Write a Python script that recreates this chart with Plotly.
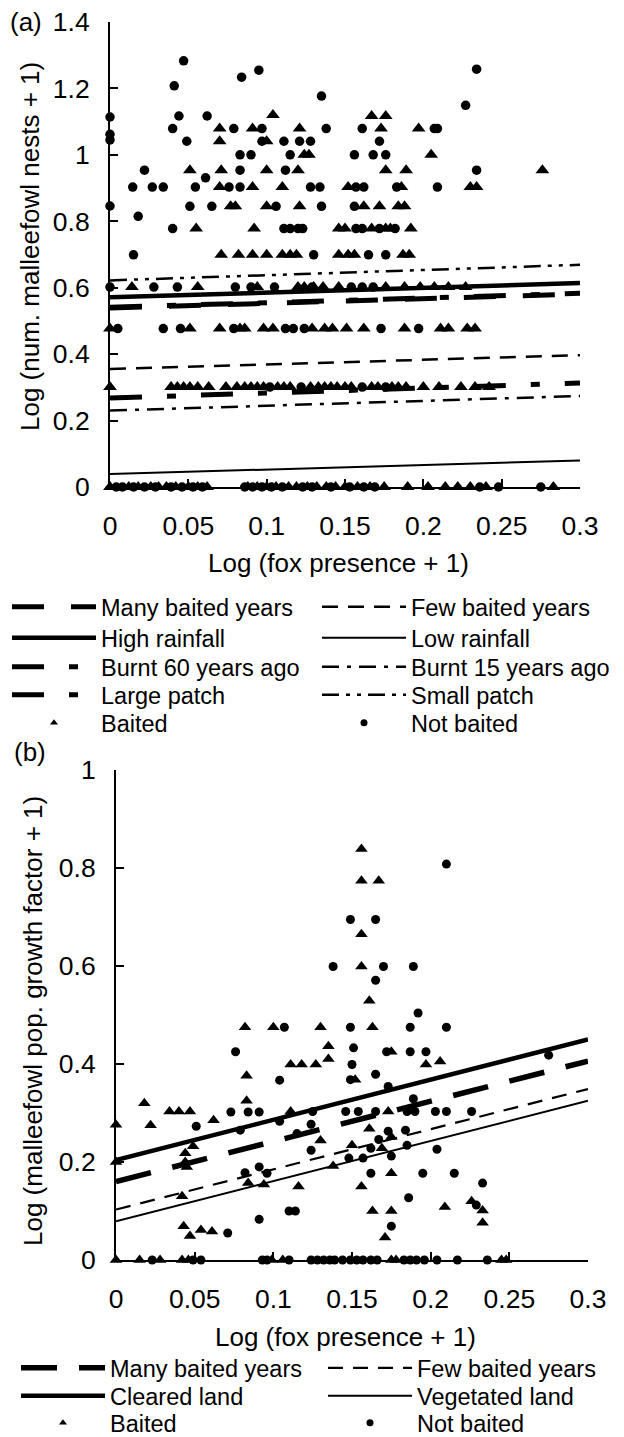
import plotly.graph_objects as go

# page is drawn with the browser's 8px body margin, so the figure is 8px smaller
OFF = 8
W, H = 624 - OFF, 1437 - OFF
FONT = "Arial, 'Liberation Sans', sans-serif"

# ---------------- DATA ----------------
X_LINE = [0, 0.3]
X_TICKS = [0, 0.05, 0.1, 0.15, 0.2, 0.25, 0.3]
A_Y_TICKS = [0, 0.2, 0.4, 0.6, 0.8, 1, 1.2, 1.4]
B_Y_TICKS = [0, 0.2, 0.4, 0.6, 0.8, 1]

# panel (a): fitted lines, value at x=0 and at x=0.3
A_LINE_NAMES = ["Many baited years", "Few baited years", "High rainfall", "Low rainfall",
                "Burnt 60 years ago", "Burnt 15 years ago", "Large patch", "Small patch"]
A_LINE_Y0 = [0.539, 0.355, 0.571, 0.039, 0.268, 0.230, 0.541, 0.622]
A_LINE_Y1 = [0.581, 0.397, 0.614, 0.080, 0.313, 0.274, 0.583, 0.669]

# panel (a): (log fox presence + 1, log nests + 1)
A_BAITED = [
    (0.104, 1.12), (0.167, 1.117), (0.176, 1.117),
    (0.070, 1.079), (0.091, 1.079), (0.121, 1.079), (0.173, 1.079), (0.197, 1.079),
    (0.070, 1.041), (0.100, 1.041),
    (0.124, 1.0), (0.127, 1.0), (0.205, 1.0),
    (0.051, 0.954), (0.071, 0.954), (0.100, 0.954), (0.120, 0.954), (0.176, 0.954),
    (0.189, 0.954), (0.276, 0.954),
    (0.070, 0.903), (0.091, 0.903), (0.110, 0.903), (0.152, 0.903), (0.186, 0.903),
    (0.230, 0.903), (0.234, 0.903),
    (0.077, 0.845), (0.080, 0.845), (0.100, 0.845), (0.121, 0.845), (0.162, 0.845),
    (0.172, 0.845), (0.184, 0.845), (0.188, 0.845),
    (0.055, 0.778), (0.092, 0.778), (0.146, 0.778), (0.150, 0.778), (0.167, 0.778),
    (0.176, 0.778), (0.179, 0.778), (0.192, 0.778),
    (0.071, 0.699), (0.082, 0.699), (0.091, 0.699), (0.100, 0.699), (0.110, 0.699),
    (0.115, 0.699), (0.119, 0.699), (0.146, 0.699), (0.152, 0.699), (0.156, 0.699),
    (0.187, 0.699), (0.191, 0.699),
    (0.014, 0.602), (0.056, 0.602), (0.094, 0.602), (0.120, 0.602), (0.124, 0.602),
    (0.130, 0.602), (0.136, 0.602), (0.146, 0.602), (0.176, 0.602), (0.188, 0.602),
    (0.198, 0.602), (0.207, 0.602), (0.216, 0.602), (0.227, 0.602),
    (0.0, 0.477), (0.051, 0.477), (0.070, 0.477), (0.083, 0.477), (0.086, 0.477),
    (0.098, 0.477), (0.104, 0.477), (0.129, 0.477), (0.137, 0.477), (0.142, 0.477),
    (0.151, 0.477), (0.162, 0.477), (0.188, 0.477), (0.211, 0.477), (0.216, 0.477),
    (0.228, 0.477), (0.233, 0.477),
    (0.0, 0.301), (0.039, 0.301), (0.043, 0.301), (0.047, 0.301), (0.051, 0.301),
    (0.056, 0.301), (0.063, 0.301), (0.074, 0.301), (0.081, 0.301), (0.086, 0.301),
    (0.090, 0.301), (0.094, 0.301), (0.098, 0.301), (0.107, 0.301), (0.111, 0.301),
    (0.115, 0.301), (0.128, 0.301), (0.133, 0.301), (0.137, 0.301), (0.141, 0.301),
    (0.145, 0.301), (0.150, 0.301), (0.154, 0.301), (0.167, 0.301), (0.171, 0.301),
    (0.180, 0.301), (0.184, 0.301), (0.189, 0.301), (0.200, 0.301), (0.210, 0.301),
    (0.224, 0.301), (0.233, 0.301), (0.242, 0.301),
    (0.0, 0.0), (0.012, 0.0), (0.018, 0.0), (0.026, 0.0), (0.031, 0.0), (0.036, 0.0),
    (0.042, 0.0), (0.050, 0.0), (0.056, 0.0), (0.062, 0.0), (0.088, 0.0), (0.094, 0.0),
    (0.100, 0.0), (0.106, 0.0), (0.114, 0.0), (0.119, 0.0), (0.126, 0.0), (0.132, 0.0),
    (0.138, 0.0), (0.144, 0.0), (0.150, 0.0), (0.158, 0.0), (0.166, 0.0), (0.175, 0.0),
    (0.190, 0.0), (0.203, 0.0), (0.214, 0.0), (0.222, 0.0), (0.230, 0.0), (0.240, 0.0),
    (0.283, 0.0),
]
A_NOT_BAITED = [
    (0.0, 1.114), (0.0, 1.062), (0.0, 1.045), (0.0, 0.846), (0.0, 0.602), (0.005, 0.477),
    (0.047, 1.283), (0.095, 1.255), (0.084, 1.234), (0.041, 1.208), (0.135, 1.177),
    (0.227, 1.149), (0.234, 1.258), (0.044, 1.117), (0.062, 1.117),
    (0.040, 1.079), (0.079, 1.079), (0.097, 1.079), (0.138, 1.079), (0.161, 1.079),
    (0.207, 1.079), (0.209, 1.079),
    (0.049, 1.041), (0.097, 1.041), (0.111, 1.041), (0.121, 1.041), (0.128, 1.041),
    (0.172, 1.041),
    (0.083, 1.0), (0.090, 1.0), (0.115, 1.0), (0.156, 1.0), (0.168, 1.0), (0.176, 1.0),
    (0.022, 0.954), (0.083, 0.954), (0.112, 0.954), (0.234, 0.954), (0.061, 0.931),
    (0.0145, 0.903), (0.027, 0.903), (0.034, 0.903), (0.0545, 0.903), (0.076, 0.903),
    (0.083, 0.903), (0.128, 0.903), (0.134, 0.903), (0.157, 0.903), (0.162, 0.903),
    (0.183, 0.903), (0.209, 0.903),
    (0.051, 0.845), (0.065, 0.845), (0.106, 0.845), (0.135, 0.845), (0.156, 0.845),
    (0.018, 0.815),
    (0.040, 0.778), (0.111, 0.778), (0.115, 0.778), (0.120, 0.778), (0.123, 0.778),
    (0.157, 0.778), (0.161, 0.778), (0.172, 0.778), (0.182, 0.778),
    (0.015, 0.699), (0.130, 0.699), (0.165, 0.699), (0.176, 0.699),
    (0.028, 0.602), (0.043, 0.602), (0.080, 0.602), (0.090, 0.602), (0.105, 0.602),
    (0.129, 0.602), (0.154, 0.602), (0.161, 0.602), (0.168, 0.602),
    (0.034, 0.477), (0.045, 0.477), (0.079, 0.477), (0.112, 0.477), (0.117, 0.477),
    (0.124, 0.477), (0.173, 0.477), (0.197, 0.477),
    (0.102, 0.301), (0.122, 0.301), (0.161, 0.301), (0.176, 0.301),
    (0.004, 0.0), (0.008, 0.0), (0.015, 0.0), (0.022, 0.0), (0.029, 0.0), (0.039, 0.0),
    (0.046, 0.0), (0.053, 0.0), (0.059, 0.0), (0.086, 0.0), (0.091, 0.0), (0.097, 0.0),
    (0.103, 0.0), (0.110, 0.0), (0.123, 0.0), (0.129, 0.0), (0.141, 0.0), (0.153, 0.0),
    (0.162, 0.0), (0.169, 0.0), (0.236, 0.0), (0.248, 0.0), (0.275, 0.0),
]

# panel (b): fitted lines
B_LINE_NAMES = ["Many baited years", "Few baited years", "Cleared land", "Vegetated land"]
B_LINE_Y0 = [0.160, 0.103, 0.204, 0.079]
B_LINE_Y1 = [0.406, 0.349, 0.450, 0.325]

# panel (b): (log fox presence + 1, log growth factor + 1)
B_BAITED = [
    (0.0, 0.276), (0.0, 0.200), (0.018, 0.320), (0.022, 0.275),
    (0.034, 0.303), (0.040, 0.303), (0.047, 0.303),
    (0.044, 0.218), (0.044, 0.200), (0.045, 0.190), (0.049, 0.232), (0.042, 0.130),
    (0.043, 0.069), (0.047, 0.049), (0.054, 0.061), (0.061, 0.058), (0.062, 0.285),
    (0.083, 0.376), (0.083, 0.325), (0.084, 0.157), (0.094, 0.154), (0.111, 0.303),
    (0.111, 0.399), (0.118, 0.399), (0.127, 0.399), (0.116, 0.150),
    (0.082, 0.475), (0.100, 0.475), (0.130, 0.475),
    (0.135, 0.436), (0.135, 0.410),
    (0.156, 0.839), (0.156, 0.774), (0.167, 0.774), (0.156, 0.665), (0.156, 0.599),
    (0.161, 0.529), (0.163, 0.475), (0.175, 0.425), (0.197, 0.399), (0.206, 0.405),
    (0.152, 0.368), (0.130, 0.244), (0.161, 0.268), (0.175, 0.251), (0.150, 0.234),
    (0.169, 0.228), (0.138, 0.192), (0.175, 0.177), (0.156, 0.150), (0.209, 0.108),
    (0.226, 0.120), (0.233, 0.101), (0.233, 0.076), (0.163, 0.100), (0.175, 0.100),
    (0.171, 0.046), (0.173, 0.303),
    (0.0, 0.0), (0.015, 0.0), (0.028, 0.0), (0.042, 0.0), (0.046, 0.0), (0.099, 0.0),
    (0.106, 0.0), (0.175, 0.0), (0.178, 0.0), (0.245, 0.0), (0.248, 0.0),
]
B_NOT_BAITED = [
    (0.076, 0.425), (0.104, 0.367), (0.073, 0.302), (0.084, 0.302), (0.091, 0.302),
    (0.051, 0.273), (0.079, 0.265), (0.104, 0.283),
    (0.082, 0.178), (0.091, 0.190), (0.096, 0.177), (0.091, 0.083), (0.110, 0.100),
    (0.114, 0.100), (0.071, 0.055), (0.124, 0.224), (0.124, 0.277), (0.115, 0.258),
    (0.107, 0.475), (0.149, 0.475), (0.187, 0.475), (0.210, 0.475),
    (0.210, 0.808), (0.149, 0.695), (0.165, 0.695), (0.138, 0.599), (0.170, 0.599),
    (0.189, 0.599), (0.165, 0.571), (0.192, 0.504),
    (0.151, 0.433), (0.172, 0.425), (0.187, 0.425), (0.197, 0.425),
    (0.150, 0.399), (0.149, 0.368), (0.165, 0.379), (0.173, 0.354), (0.275, 0.418),
    (0.189, 0.329),
    (0.125, 0.303), (0.146, 0.303), (0.154, 0.303), (0.165, 0.303), (0.185, 0.303),
    (0.190, 0.303), (0.203, 0.303), (0.210, 0.303), (0.226, 0.303),
    (0.173, 0.263), (0.184, 0.265), (0.167, 0.246), (0.162, 0.228), (0.185, 0.234),
    (0.204, 0.226), (0.148, 0.208), (0.157, 0.208), (0.175, 0.212),
    (0.162, 0.177), (0.195, 0.177), (0.215, 0.177), (0.233, 0.157), (0.186, 0.127),
    (0.229, 0.112), (0.175, 0.069),
    (0.023, 0.0), (0.049, 0.0), (0.054, 0.0), (0.093, 0.0), (0.096, 0.0), (0.110, 0.0),
    (0.124, 0.0), (0.128, 0.0), (0.132, 0.0), (0.136, 0.0), (0.139, 0.0), (0.144, 0.0),
    (0.149, 0.0), (0.153, 0.0), (0.157, 0.0), (0.162, 0.0), (0.166, 0.0), (0.183, 0.0),
    (0.187, 0.0), (0.191, 0.0), (0.196, 0.0), (0.204, 0.0), (0.217, 0.0), (0.236, 0.0),
]

# ---------------- STYLES ----------------
A_STYLE = {
    "Many baited years": (5, "32px,27px"),
    "Few baited years": (2.5, "16px,10px"),
    "High rainfall": (4.5, "solid"),
    "Low rainfall": (2, "solid"),
    "Burnt 60 years ago": (5, "32px,25px,9px,25px"),
    "Burnt 15 years ago": (2.5, "17px,8px,4px,8px"),
    "Large patch": (5, "32px,25px,9px,25px"),
    "Small patch": (2.5, "17px,7px,4px,7px,4px,7px"),
}
B_STYLE = {
    "Many baited years": (5.5, "36px,22px"),
    "Few baited years": (2.2, "15px,10px"),
    "Cleared land": (4.5, "solid"),
    "Vegetated land": (2, "solid"),
}

# legend slots in screen px: (column left, row centre)
A_COLS, A_ROWS = [18, 328], [607, 638, 667, 695, 723]
B_COLS, B_ROWS = [27, 334], [1368, 1396, 1423]
A_SLOTS = {
    "Many baited years": (0, 0), "High rainfall": (0, 1), "Burnt 60 years ago": (0, 2),
    "Large patch": (0, 3), "Baited": (0, 4),
    "Few baited years": (1, 0), "Low rainfall": (1, 1), "Burnt 15 years ago": (1, 2),
    "Small patch": (1, 3), "Not baited": (1, 4),
}
B_SLOTS = {
    "Many baited years": (0, 0), "Cleared land": (0, 1), "Baited": (0, 2),
    "Few baited years": (1, 0), "Vegetated land": (1, 1), "Not baited": (1, 2),
}
LEG_PAD = 11


def px_x(px):
    return (px - OFF) / W


def px_y(py):
    return 1 - (py - OFF) / H


fig = go.Figure()
legends = {}


def new_legend(col_px, row_px):
    n = len(legends) + 1
    lid = "legend" if n == 1 else f"legend{n}"
    legends[lid] = dict(
        x=px_x(col_px - LEG_PAD), y=px_y(row_px), xanchor="left", yanchor="middle",
        font=dict(family=FONT, size=23.5, color="black"),
        bgcolor="rgba(0,0,0,0)", itemwidth=84, tracegroupgap=0,
    )
    return lid


def add_panel(xa, ya, baited, not_baited, names, y0, y1, style, cols, rows, slots, msize):
    for pts, sym, label, sz in [(baited, "triangle-up", "Baited", msize[0]),
                                (not_baited, "circle", "Not baited", msize[1])]:
        fig.add_trace(go.Scatter(
            x=[p[0] for p in pts], y=[p[1] for p in pts], mode="markers",
            marker=dict(symbol=sym, size=sz, color="black"),
            xaxis=xa, yaxis=ya, showlegend=False, cliponaxis=False, name=label,
        ))
        c, r = slots[label]
        fig.add_trace(go.Scatter(
            x=[None], y=[None], mode="markers", name=label,
            marker=dict(symbol=sym, size=7, color="black"),
            xaxis=xa, yaxis=ya, legend=new_legend(cols[c], rows[r]),
        ))
    for name, a, b in zip(names, y0, y1):
        w, dash = style[name]
        c, r = slots[name]
        fig.add_trace(go.Scatter(
            x=X_LINE, y=[a, b], mode="lines", name=name,
            line=dict(color="black", width=w, dash=dash),
            xaxis=xa, yaxis=ya, legend=new_legend(cols[c], rows[r]),
        ))


add_panel("x", "y", A_BAITED, A_NOT_BAITED, A_LINE_NAMES, A_LINE_Y0, A_LINE_Y1,
          A_STYLE, A_COLS, A_ROWS, A_SLOTS, (12, 9.5))
add_panel("x2", "y2", B_BAITED, B_NOT_BAITED, B_LINE_NAMES, B_LINE_Y0, B_LINE_Y1,
          B_STYLE, B_COLS, B_ROWS, B_SLOTS, (11, 9))


def axis(domain, rng, ticks, anchor, standoff):
    return dict(
        domain=domain, range=rng, tickmode="array", tickvals=ticks,
        ticktext=[f"{t:g}" for t in ticks], anchor=anchor,
        showline=True, linewidth=2, linecolor="black",
        ticks="inside", ticklen=8, tickwidth=2, tickcolor="black",
        showgrid=False, zeroline=False, ticklabelstandoff=standoff,
        ticklabeloverflow="allow",
        tickfont=dict(family=FONT, size=26.5, color="black"),
    )


fig.update_layout(
    width=W, height=H,
    margin=dict(l=0, r=0, t=0, b=0, autoexpand=False),
    plot_bgcolor="white", paper_bgcolor="white",
    showlegend=True,
    xaxis=axis([px_x(110), px_x(580)], [0, 0.3], X_TICKS, "y", 14),
    yaxis=axis([px_y(487), px_y(22)], [0, 1.4], A_Y_TICKS, "x", 13),
    xaxis2=axis([px_x(116), px_x(588)], [0, 0.3], X_TICKS, "y2", 14),
    yaxis2=axis([px_y(1260), px_y(770)], [0, 1], B_Y_TICKS, "x2", 13),
    **legends,
)

# ---------------- TEXT ----------------
TEXTS = [
    ("(a)", 26, 22, 0),
    ("(b)", 30, 752, 0),
    ("Log (fox presence + 1)", 338, 563, 0),
    ("Log (fox presence + 1)", 345, 1337, 0),
    ("Log (num. malleefowl nests + 1)", 30, 247, -90),
    ("Log (malleefowl pop. growth factor + 1)", 33, 1021, -90),
]
for txt, px, py, ang in TEXTS:
    fig.add_annotation(
        text=txt, x=px_x(px), y=px_y(py), xref="paper", yref="paper",
        xanchor="center", yanchor="middle", showarrow=False, textangle=ang,
        font=dict(family=FONT, size=26, color="black"),
    )

fig.write_html("out.html")
